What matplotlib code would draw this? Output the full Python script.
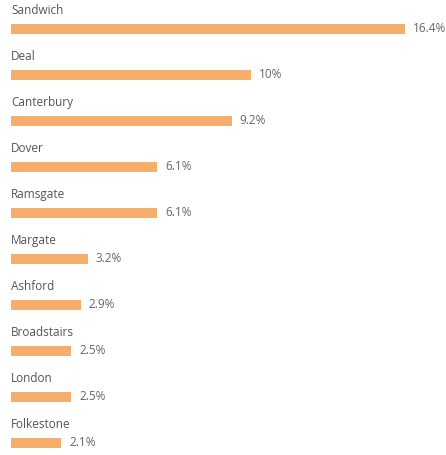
import matplotlib
matplotlib.use('Agg')
import matplotlib.pyplot as plt

towns = ['Sandwich', 'Deal', 'Canterbury', 'Dover', 'Ramsgate', 'Margate',
         'Ashford', 'Broadstairs', 'London', 'Folkestone']
shares = [16.4, 10, 9.2, 6.1, 6.1, 3.2, 2.9, 2.5, 2.5, 2.1]
value_labels = ['16.4%', '10%', '9.2%', '6.1%', '6.1%', '3.2%', '2.9%', '2.5%', '2.5%', '2.1%']

fig = plt.figure(figsize=(4.46, 4.55), dpi=100)
ax = fig.add_axes([0, 0, 1, 1])

# pixel layout: bars start at x=11, 24 px per percent, rows 46 px apart
px = 24.0
ax.set_xlim(-11 / px, (446 - 11) / px)
ax.set_ylim((455 - 29) / 46, -29 / 46)

ys = list(range(len(towns)))
ax.barh(ys, shares, height=10.5 / 46, color='#F5AE6B', left=0)

for y, name, v, lab in zip(ys, towns, shares, value_labels):
    ax.text(0, y - 18.5 / 46, name, ha='left', va='center', fontsize=8.5,
            color='#555555', family='Open Sans')
    ax.text(v + 8 / px, y, lab, ha='left', va='center', fontsize=8.5,
            color='#666666', family='Open Sans')

ax.axis('off')
fig.savefig('out.png', dpi=100)
